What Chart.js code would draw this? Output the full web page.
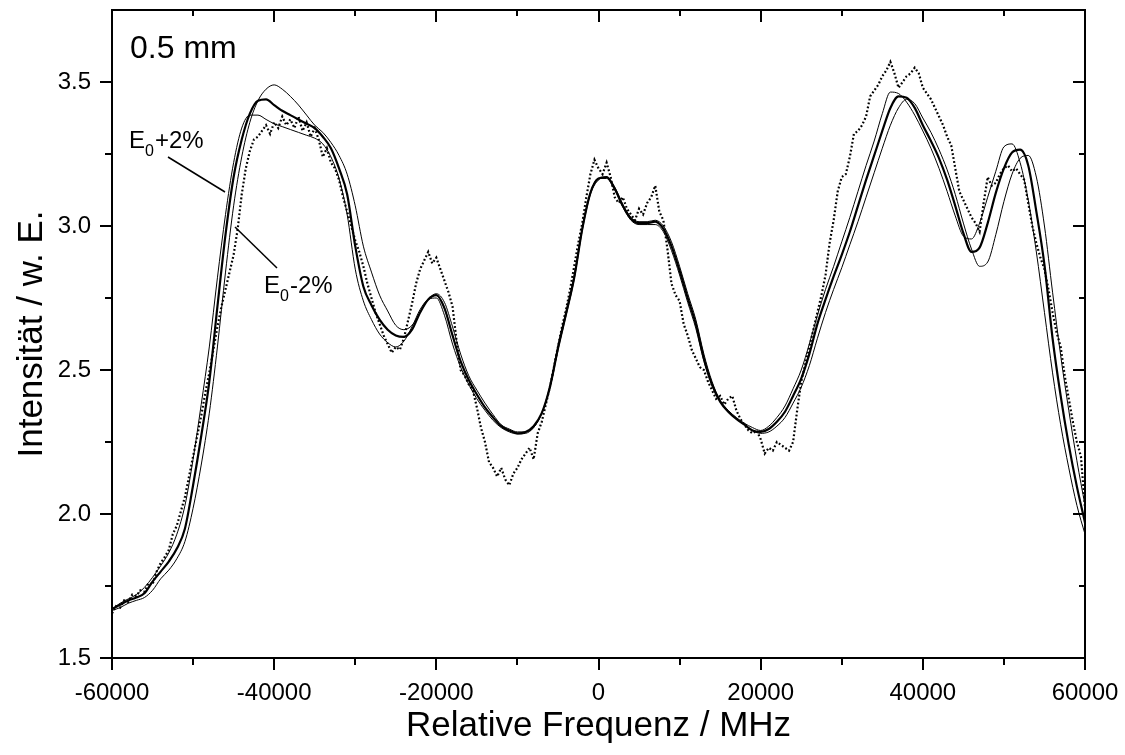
<!DOCTYPE html>
<html><head><meta charset="utf-8">
<script src="https://cdn.jsdelivr.net/npm/chart.js@4.4.1/dist/chart.umd.min.js"></script>
<style>html,body{margin:0;padding:0;background:#fff;}#wrap{width:1125px;height:755px;}</style>
</head><body><div id="wrap"><canvas id="c" width="1125" height="755"></canvas></div>
<script>
// ---- tick values ----
const xTicks = [-60000, -40000, -20000, 0, 20000, 40000, 60000];
const xMinorTicks = [-50000, -30000, -10000, 10000, 30000, 50000];
const yTicks = [1.5, 2.0, 2.5, 3.0, 3.5];
const yMinorTicks = [1.75, 2.25, 2.75, 3.25];

// ---- fit curves (shared frequency grid, MHz) ----
const fitFreq = [-60000,-59000,-58000,-57000,-56000,-55000,-54000,-53000,-52000,-51000,-50000,-49000,-48000,-47000,-46000,-45000,-44000,-43000,-42000,-41000,-40000,-39000,-38000,-37000,-36000,-35000,-34000,-33000,-32000,-31000,-30000,-29000,-28000,-27000,-26000,-25000,-24000,-23000,-22000,-21000,-20000,-19000,-18000,-17000,-16000,-15000,-14000,-13000,-12000,-11000,-10000,-9000,-8000,-7000,-6000,-5000,-4000,-3000,-2000,-1000,0,1000,2000,3000,4000,5000,6000,7000,8000,9000,10000,11000,12000,13000,14000,15000,16000,17000,18000,19000,20000,21000,22000,23000,24000,25000,26000,27000,28000,29000,30000,31000,32000,33000,34000,35000,36000,37000,38000,39000,40000,41000,42000,43000,44000,45000,46000,47000,48000,49000,50000,51000,52000,53000,54000,55000,56000,57000,58000,59000,60000];
const fitE0 = [1.67,1.685,1.70,1.71,1.725,1.765,1.80,1.835,1.88,1.95,2.10,2.27,2.46,2.72,2.97,3.17,3.30,3.39,3.435,3.44,3.42,3.40,3.385,3.37,3.355,3.34,3.31,3.27,3.20,3.11,2.93,2.79,2.725,2.675,2.64,2.62,2.615,2.64,2.70,2.745,2.76,2.715,2.62,2.53,2.465,2.415,2.37,2.335,2.305,2.29,2.28,2.285,2.305,2.35,2.44,2.575,2.695,2.82,2.99,3.115,3.165,3.17,3.13,3.07,3.025,3.01,3.01,3.015,2.99,2.93,2.845,2.75,2.66,2.54,2.45,2.39,2.355,2.33,2.31,2.29,2.285,2.295,2.32,2.355,2.41,2.47,2.555,2.66,2.745,2.825,2.90,2.98,3.07,3.16,3.245,3.33,3.41,3.45,3.445,3.41,3.35,3.295,3.235,3.16,3.07,2.975,2.91,2.925,3.01,3.115,3.20,3.255,3.265,3.21,3.05,2.865,2.61,2.41,2.24,2.095,1.97];
const fitPlus2 = [1.67,1.69,1.705,1.72,1.745,1.78,1.82,1.865,1.93,2.03,2.19,2.38,2.58,2.82,3.04,3.22,3.34,3.385,3.385,3.37,3.355,3.345,3.335,3.325,3.315,3.305,3.285,3.24,3.165,3.04,2.85,2.74,2.675,2.625,2.595,2.58,2.60,2.65,2.71,2.745,2.75,2.69,2.59,2.51,2.45,2.40,2.36,2.325,2.30,2.285,2.278,2.28,2.30,2.35,2.445,2.585,2.705,2.83,2.995,3.115,3.165,3.165,3.125,3.065,3.02,3.005,3.005,3.005,2.98,2.915,2.83,2.735,2.645,2.53,2.445,2.39,2.355,2.33,2.31,2.29,2.28,2.285,2.305,2.335,2.385,2.44,2.515,2.61,2.70,2.78,2.855,2.935,3.015,3.10,3.185,3.27,3.35,3.41,3.44,3.425,3.375,3.325,3.265,3.195,3.11,3.01,2.92,2.86,2.875,2.97,3.085,3.18,3.235,3.245,3.17,3.00,2.77,2.55,2.36,2.185,2.03];
const fitMinus2 = [1.665,1.675,1.69,1.70,1.71,1.735,1.775,1.805,1.845,1.905,2.02,2.17,2.35,2.58,2.84,3.07,3.24,3.36,3.435,3.475,3.49,3.475,3.45,3.42,3.385,3.35,3.325,3.29,3.245,3.18,3.07,2.93,2.84,2.76,2.705,2.655,2.64,2.655,2.70,2.745,2.765,2.735,2.65,2.555,2.48,2.43,2.385,2.345,2.31,2.295,2.285,2.285,2.30,2.35,2.435,2.57,2.69,2.815,2.985,3.11,3.16,3.17,3.135,3.075,3.03,3.015,3.015,3.02,3.00,2.945,2.86,2.765,2.675,2.555,2.46,2.395,2.36,2.335,2.315,2.30,2.29,2.305,2.335,2.375,2.435,2.50,2.59,2.69,2.78,2.86,2.945,3.03,3.12,3.21,3.295,3.39,3.465,3.46,3.43,3.385,3.33,3.27,3.20,3.12,3.035,2.965,2.955,3.01,3.10,3.19,3.275,3.285,3.22,3.09,2.91,2.70,2.49,2.31,2.16,2.03,1.93];

// ---- measured spectrum ----
const dataFreq = [-60000,-59500,-59000,-58500,-58000,-57500,-57000,-56500,-56000,-55500,-55000,-54500,-54000,-53500,-53000,-52500,-52000,-51500,-51000,-50500,-50000,-49500,-49000,-48500,-48000,-47500,-47000,-46500,-46000,-45500,-45000,-44500,-44000,-43500,-43000,-42500,-42000,-41500,-41000,-40500,-40000,-39500,-39000,-38500,-38000,-37500,-37000,-36500,-36000,-35500,-35000,-34500,-34000,-33500,-33000,-32500,-32000,-31500,-31000,-30500,-30000,-29500,-29000,-28500,-28000,-27500,-27000,-26500,-26000,-25500,-25000,-24500,-24000,-23500,-23000,-22500,-22000,-21500,-21000,-20500,-20000,-19500,-19000,-18500,-18000,-17500,-17000,-16500,-16000,-15500,-15000,-14500,-14000,-13500,-13000,-12500,-12000,-11500,-11000,-10500,-10000,-9500,-9000,-8500,-8000,-7500,-7000,-6500,-6000,-5500,-5000,-4500,-4000,-3500,-3000,-2500,-2000,-1500,-1000,-500,0,500,1000,1500,2000,2500,3000,3500,4000,4500,5000,5500,6000,6500,7000,7500,8000,8500,9000,9500,10000,10500,11000,11500,12000,12500,13000,13500,14000,14500,15000,15500,16000,16500,17000,17500,18000,18500,19000,19500,20000,20500,21000,21500,22000,22500,23000,23500,24000,24500,25000,25500,26000,26500,27000,27500,28000,28500,29000,29500,30000,30500,31000,31500,32000,32500,33000,33500,34000,34500,35000,35500,36000,36500,37000,37500,38000,38500,39000,39500,40000,40500,41000,41500,42000,42500,43000,43500,44000,44500,45000,45500,46000,46500,47000,47500,48000,48500,49000,49500,50000,50500,51000,51500,52000,52500,53000,53500,54000,54500,55000,55500,56000,56500,57000,57500,58000,58500,59000,59500,60000];
const dataInt = [1.655,1.68,1.675,1.70,1.695,1.72,1.715,1.735,1.73,1.76,1.755,1.80,1.83,1.85,1.875,1.93,1.96,2.01,2.06,2.13,2.20,2.27,2.34,2.42,2.49,2.57,2.65,2.72,2.78,2.84,2.90,2.99,3.11,3.20,3.26,3.30,3.31,3.33,3.35,3.32,3.36,3.34,3.38,3.35,3.37,3.34,3.38,3.33,3.36,3.31,3.34,3.30,3.24,3.27,3.22,3.20,3.16,3.10,3.05,3.00,2.95,2.91,2.86,2.80,2.75,2.70,2.66,2.62,2.59,2.56,2.58,2.57,2.61,2.67,2.73,2.80,2.85,2.88,2.91,2.87,2.89,2.85,2.81,2.77,2.72,2.60,2.50,2.48,2.45,2.43,2.37,2.30,2.25,2.18,2.16,2.13,2.16,2.12,2.10,2.14,2.16,2.19,2.21,2.23,2.19,2.28,2.32,2.38,2.44,2.51,2.58,2.65,2.71,2.78,2.86,2.94,3.01,3.10,3.18,3.23,3.20,3.18,3.22,3.17,3.10,3.08,3.10,3.06,3.04,3.02,3.06,3.04,3.08,3.10,3.14,3.05,3.02,2.92,2.80,2.76,2.74,2.66,2.62,2.57,2.54,2.51,2.50,2.46,2.43,2.40,2.41,2.38,2.40,2.41,2.36,2.33,2.31,2.29,2.28,2.29,2.26,2.21,2.23,2.22,2.25,2.24,2.23,2.22,2.25,2.36,2.46,2.52,2.58,2.64,2.70,2.76,2.83,2.94,3.02,3.12,3.17,3.18,3.24,3.32,3.33,3.35,3.38,3.45,3.47,3.49,3.52,3.54,3.57,3.53,3.48,3.50,3.52,3.53,3.55,3.53,3.48,3.46,3.44,3.41,3.38,3.35,3.31,3.28,3.20,3.12,3.09,3.06,3.03,3.01,2.98,3.08,3.17,3.14,3.15,3.18,3.20,3.21,3.19,3.20,3.18,3.16,3.08,3.00,2.94,2.89,2.85,2.78,2.70,2.63,2.58,2.48,2.40,2.32,2.25,2.20,2.02];

const toXY = (xs, ys) => xs.map((v, i) => ({x: v, y: ys[i]}));
const FONT = '"Liberation Sans", Arial, Helvetica, sans-serif';

const axesPlugin = {
  id: 'axesDeco',
  afterDatasetsDraw(chart) {
    const {ctx, chartArea: a, scales: {x, y}} = chart;
    ctx.save();
    ctx.strokeStyle = '#000';
    ctx.fillStyle = '#000';
    ctx.lineCap = 'butt';
    const seg = (x1, y1, x2, y2) => { ctx.beginPath(); ctx.moveTo(x1, y1); ctx.lineTo(x2, y2); ctx.stroke(); };
    ctx.lineWidth = 2;
    ctx.strokeRect(a.left, a.top, a.right - a.left, a.bottom - a.top);
    xTicks.forEach(v => { const p = Math.round(x.getPixelForValue(v)); seg(p, a.bottom, p, a.bottom + 12); seg(p, a.top, p, a.top + 12); });
    xMinorTicks.forEach(v => { const p = Math.round(x.getPixelForValue(v)); seg(p, a.bottom, p, a.bottom + 7); seg(p, a.top, p, a.top + 6); });
    yTicks.forEach(v => { const p = Math.round(y.getPixelForValue(v)); seg(a.left - 12, p, a.left, p); seg(a.right - 12, p, a.right, p); });
    yMinorTicks.forEach(v => { const p = Math.round(y.getPixelForValue(v)); seg(a.left - 7, p, a.left, p); seg(a.right - 6, p, a.right, p); });
    // tick labels
    ctx.font = '24px ' + FONT;
    ctx.textAlign = 'center'; ctx.textBaseline = 'middle';
    xTicks.forEach(v => ctx.fillText(String(v), x.getPixelForValue(v), a.bottom + 35));
    ctx.textAlign = 'right';
    yTicks.forEach(v => ctx.fillText(v.toFixed(1), a.left - 21, y.getPixelForValue(v)));
    // axis titles
    ctx.font = '35px ' + FONT;
    ctx.textAlign = 'center'; ctx.textBaseline = 'alphabetic';
    ctx.fillText('Relative Frequenz / MHz', (a.left + a.right) / 2, 736);
    ctx.save();
    ctx.translate(42, (a.top + a.bottom) / 2);
    ctx.rotate(-Math.PI / 2);
    ctx.fillText('Intensität / w. E.', 0, 0);
    ctx.restore();
    // annotations
    ctx.textAlign = 'left';
    ctx.font = '32px ' + FONT;
    ctx.fillText('0.5 mm', 130, 58);
    const sub = (x0, yb, main2) => {
      ctx.font = '24px ' + FONT;
      ctx.fillText('E', x0, yb);
      let w = ctx.measureText('E').width;
      ctx.font = '16px ' + FONT;
      ctx.fillText('0', x0 + w, yb + 8);
      w += ctx.measureText('0').width;
      ctx.font = '24px ' + FONT;
      ctx.fillText(main2, x0 + w + 1, yb);
    };
    sub(129, 148, '+2%');
    sub(264, 293, '-2%');
    ctx.lineWidth = 1.5;
    seg(168, 157, 225, 192);
    seg(235, 227, 277, 268);
    ctx.restore();
  }
};

new Chart(document.getElementById('c'), {
  type: 'line',
  data: {
    datasets: [
      { label: 'Messung', data: toXY(dataFreq, dataInt), borderColor: '#000', borderWidth: 2.2, borderDash: [1.8, 2.2], pointRadius: 0, tension: 0, order: 4 },
      { label: 'E0+2%', data: toXY(fitFreq, fitPlus2), borderColor: '#000', borderWidth: 1, pointRadius: 0, cubicInterpolationMode: 'monotone', order: 3 },
      { label: 'E0-2%', data: toXY(fitFreq, fitMinus2), borderColor: '#000', borderWidth: 1, pointRadius: 0, cubicInterpolationMode: 'monotone', order: 2 },
      { label: 'E0', data: toXY(fitFreq, fitE0), borderColor: '#000', borderWidth: 2.2, pointRadius: 0, cubicInterpolationMode: 'monotone', order: 1 }
    ]
  },
  options: {
    responsive: false, animation: false, devicePixelRatio: 1,
    layout: { padding: { left: 112, right: 40, top: 10, bottom: 97 } },
    plugins: { legend: { display: false }, tooltip: { enabled: false } },
    scales: {
      x: { type: 'linear', min: -60000, max: 60000, display: false },
      y: { type: 'linear', min: 1.5, max: 3.75, display: false }
    }
  },
  plugins: [axesPlugin]
});
</script></body></html>
